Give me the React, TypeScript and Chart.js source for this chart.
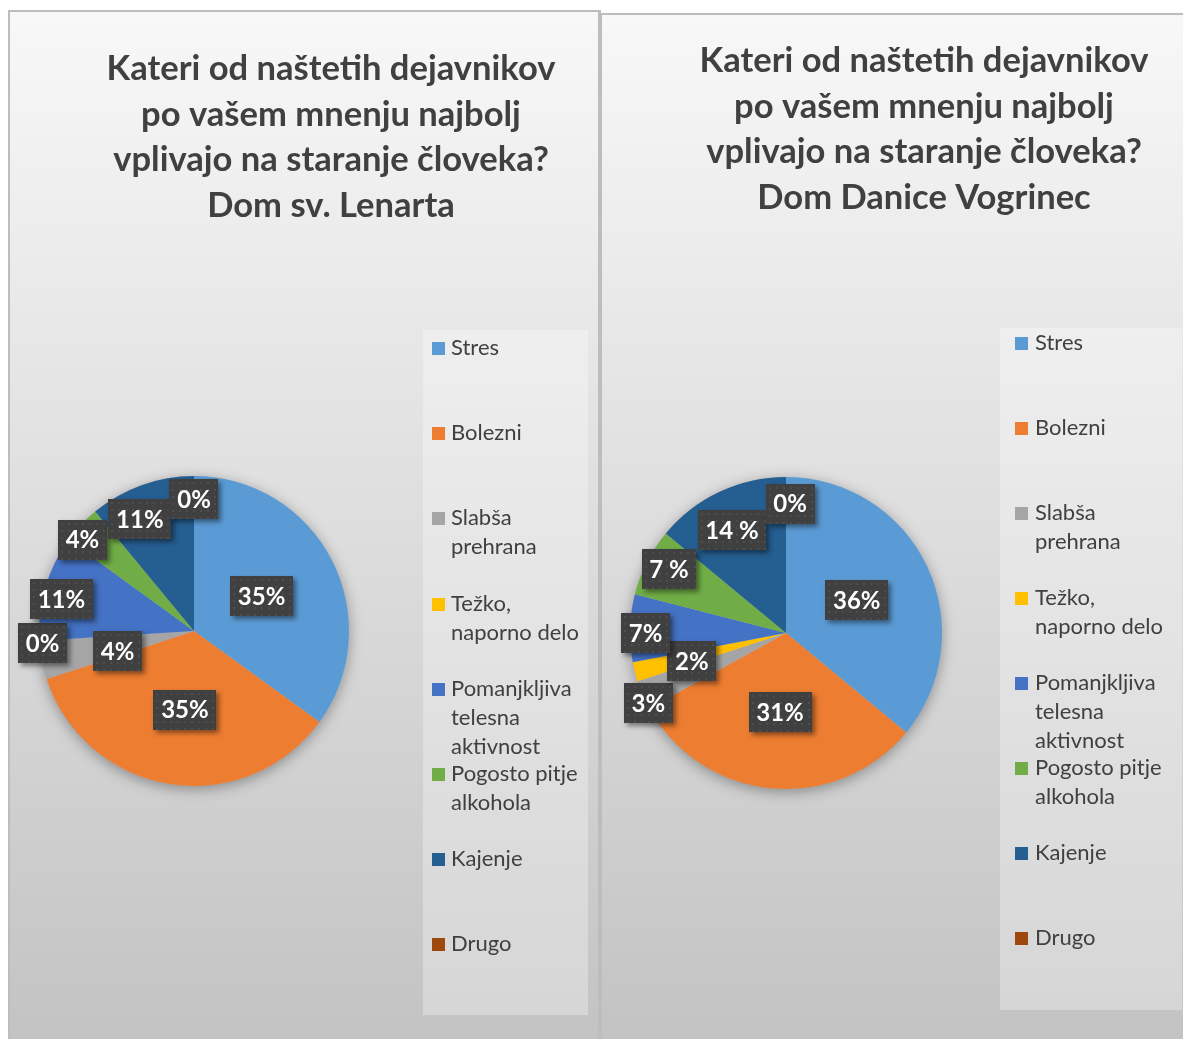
import React, { useEffect, useRef } from "react";
import { Chart, registerables } from "chart.js";

Chart.register(...registerables);

// ---------- data ----------
const categories = [
  "Stres",
  "Bolezni",
  "Slabša prehrana",
  "Težko, naporno delo",
  "Pomanjkljiva telesna aktivnost",
  "Pogosto pitje alkohola",
  "Kajenje",
  "Drugo",
];
const sliceColors = ["#5B9BD5", "#ED7D31", "#A5A5A5", "#FFC000", "#4472C4", "#70AD47", "#255E91", "#9E480E"];

const lenartTitle = [
  "Kateri od naštetih dejavnikov",
  "po vašem mnenju najbolj",
  "vplivajo na staranje človeka?",
  "Dom sv. Lenarta",
];
const lenartValues = [35, 35, 4, 0, 11, 4, 11, 0];
const lenartLabels = ["35%", "35%", "4%", "0%", "11%", "4%", "11%", "0%"];

const vogrinecTitle = [
  "Kateri od naštetih dejavnikov",
  "po vašem mnenju najbolj",
  "vplivajo na staranje človeka?",
  "Dom Danice Vogrinec",
];
const vogrinecValues = [36, 31, 3, 2, 7, 7, 14, 0];
const vogrinecLabels = ["36%", "31%", "3%", "2%", "7%", "7 %", "14 %", "0%"];

// ---------- layout (label placement: radial factor + angle nudge in degrees) ----------
const lenartLabelRadius = [0.49, 0.51, 0.51, 0.98, 0.88, 0.93, 0.8, 0.85];
const lenartLabelNudge = [-0.2, -2.4, -3.9, -0.9, -2.6, -3.9, -6.1, 0];
const vogrinecLabelRadius = [0.5, 0.51, 0.99, 0.63, 0.9, 0.855, 0.745, 0.83];
const vogrinecLabelNudge = [0.3, -1.1, -3.5, -2.2, -1.8, 1.7, -2.5, 1.8];

const TEXT = "#404040";

type Cfg = {
  title: string[];
  titleCx: number;
  titleBaselines: number[];
  legendBox: [number, number, number, number];
  legendMarkerX: number;
  legendTextX: number;
  legendRows: number[];
  labels: string[];
  labelRadius: number[];
  labelNudge: number[];
  border: { left: number; top: number; right: number };
};

function wrapText(ctx: CanvasRenderingContext2D, text: string, maxW: number): string[] {
  const words = text.split(" ");
  const lines: string[] = [];
  let cur = "";
  for (const w of words) {
    const t = cur ? cur + " " + w : w;
    if (cur && ctx.measureText(t).width > maxW) {
      lines.push(cur);
      cur = w;
    } else cur = t;
  }
  if (cur) lines.push(cur);
  return lines;
}

function makePlugin(cfg: Cfg) {
  return {
    id: "panel",
    beforeDraw(chart: any) {
      const ctx: CanvasRenderingContext2D = chart.ctx;
      const W = chart.width;
      const H = chart.height;
      ctx.save();
      const g = ctx.createLinearGradient(0, 0, 0, H);
      g.addColorStop(0, "#f8f8f8");
      g.addColorStop(1, "#c3c3c3");
      ctx.fillStyle = g;
      ctx.fillRect(0, 0, W, H);
      // borders
      ctx.fillStyle = "#bdbdbd";
      if (cfg.border.left) ctx.fillRect(0, 0, cfg.border.left, H);
      if (cfg.border.top) ctx.fillRect(0, 0, W, cfg.border.top);
      if (cfg.border.right) ctx.fillRect(W - cfg.border.right, 0, cfg.border.right, H);

      // legend box
      const [bx, by, bw, bh] = cfg.legendBox;
      ctx.fillStyle = "rgba(255,255,255,0.3)";
      ctx.fillRect(bx, by, bw, bh);

      // title (fit first line to the reference width)
      ctx.font = "bold 100px Lato";
      const w100 = ctx.measureText(cfg.title[0]).width;
      const size = (100 * 449) / w100;
      ctx.font = `bold ${size}px Lato`;
      ctx.fillStyle = TEXT;
      ctx.textBaseline = "alphabetic";
      ctx.textAlign = "center";
      cfg.title.forEach((line, i) => {
        ctx.fillText(line, cfg.titleCx, cfg.titleBaselines[i]);
      });

      // legend
      ctx.font = "22px Lato";
      ctx.textAlign = "left";
      ctx.textBaseline = "middle";
      const items = chart.data.labels as string[];
      const colors = chart.data.datasets[0].backgroundColor as string[];
      items.forEach((label, i) => {
        const cy = cfg.legendRows[i];
        ctx.fillStyle = colors[i];
        ctx.fillRect(cfg.legendMarkerX, cy - 6, 13, 13);
        ctx.fillStyle = TEXT;
        const lines = wrapText(ctx, label, 134);
        lines.forEach((ln, j) => ctx.fillText(ln, cfg.legendTextX, cy + j * 29));
      });
      ctx.restore();
    },
    beforeDatasetsDraw(chart: any) {
      const ctx: CanvasRenderingContext2D = chart.ctx;
      const arc = chart.getDatasetMeta(0).data[0];
      if (!arc) return;
      const { x, y, outerRadius } = arc.getProps(["x", "y", "outerRadius"], true);
      ctx.save();
      ctx.shadowColor = "rgba(0,0,0,0.35)";
      ctx.shadowBlur = 14;
      ctx.shadowOffsetY = 3;
      ctx.fillStyle = "#bbbbbb";
      ctx.beginPath();
      ctx.arc(x, y, outerRadius, 0, Math.PI * 2);
      ctx.fill();
      ctx.restore();
    },
    afterDatasetsDraw(chart: any) {
      const ctx: CanvasRenderingContext2D = chart.ctx;
      const meta = chart.getDatasetMeta(0);
      ctx.save();
      ctx.font = "bold 24px Lato";
      ctx.textAlign = "center";
      ctx.textBaseline = "middle";
      meta.data.forEach((el: any, i: number) => {
        const { x, y, startAngle, endAngle, outerRadius } = el.getProps(
          ["x", "y", "startAngle", "endAngle", "outerRadius"],
          true
        );
        const mid = (startAngle + endAngle) / 2 + (cfg.labelNudge[i] * Math.PI) / 180;
        const r = outerRadius * cfg.labelRadius[i];
        const px = x + Math.cos(mid) * r;
        const py = y + Math.sin(mid) * r;
        const text = cfg.labels[i];
        const tw = ctx.measureText(text).width;
        const w = Math.round(tw + 15);
        const h = 40;
        const lx = Math.round(px - w / 2);
        const ly = Math.round(py - h / 2);
        ctx.save();
        ctx.shadowColor = "rgba(0,0,0,0.45)";
        ctx.shadowBlur = 5;
        ctx.shadowOffsetX = 3;
        ctx.shadowOffsetY = 3;
        ctx.fillStyle = "#404040";
        ctx.fillRect(lx, ly, w, h);
        ctx.restore();
        // subtle dotted texture
        ctx.fillStyle = "rgba(255,255,255,0.07)";
        for (let dx = 3; dx < w - 1; dx += 7) {
          for (let dy = 3; dy < h - 1; dy += 7) {
            ctx.fillRect(lx + dx, ly + dy, 2, 2);
          }
        }
        ctx.fillStyle = "#ffffff";
        ctx.fillText(text, px, py + 1);
      });
      ctx.restore();
    },
  };
}

type PanelProps = {
  left: number;
  top: number;
  width: number;
  height: number;
  values: number[];
  padding: { left: number; top: number; right: number; bottom: number };
  cfg: Cfg;
};

function PiePanel({ left, top, width, height, values, padding, cfg }: PanelProps) {
  const ref = useRef<HTMLCanvasElement>(null);
  useEffect(() => {
    const chart = new Chart(ref.current as HTMLCanvasElement, {
      type: "pie",
      data: {
        labels: categories,
        datasets: [{ data: values, backgroundColor: sliceColors, borderWidth: 0 }],
      },
      options: {
        responsive: false,
        animation: false,
        rotation: 0,
        layout: { padding },
        plugins: {
          legend: { display: false },
          title: { display: false },
          tooltip: { enabled: false },
        },
      },
      plugins: [makePlugin(cfg) as any],
    });
    return () => chart.destroy();
  }, []);
  return (
    <div style={{ position: "absolute", left, top, width, height }}>
      <canvas ref={ref} width={width} height={height} style={{ display: "block", width, height }} />
    </div>
  );
}

export default function App() {
  return (
    <div style={{ position: "absolute", left: 0, top: 0, width: 1183, height: 1039, overflow: "hidden", background: "#ffffff" }}>
      <PiePanel
        left={8}
        top={10}
        width={593}
        height={1029}
        values={lenartValues}
        padding={{ left: 31, top: 466, right: 252, bottom: 253 }}
        cfg={{
          title: lenartTitle,
          titleCx: 323,
          titleBaselines: [70, 116, 161, 207],
          legendBox: [415, 320, 165, 685],
          legendMarkerX: 424,
          legendTextX: 443,
          legendRows: [338, 423, 508, 594, 679, 764, 849, 934],
          labels: lenartLabels,
          labelRadius: lenartLabelRadius,
          labelNudge: lenartLabelNudge,
          border: { left: 2, top: 2, right: 3 },
        }}
      />
      <PiePanel
        left={601}
        top={13}
        width={582}
        height={1026}
        values={vogrinecValues}
        padding={{ left: 29, top: 464, right: 241, bottom: 250 }}
        cfg={{
          title: vogrinecTitle,
          titleCx: 323,
          titleBaselines: [59, 105, 150, 196],
          legendBox: [399, 315, 182, 682],
          legendMarkerX: 414,
          legendTextX: 434,
          legendRows: [330, 415, 500, 585, 670, 755, 840, 925],
          labels: vogrinecLabels,
          labelRadius: vogrinecLabelRadius,
          labelNudge: vogrinecLabelNudge,
          border: { left: 1, top: 2, right: 0 },
        }}
      />
    </div>
  );
}
